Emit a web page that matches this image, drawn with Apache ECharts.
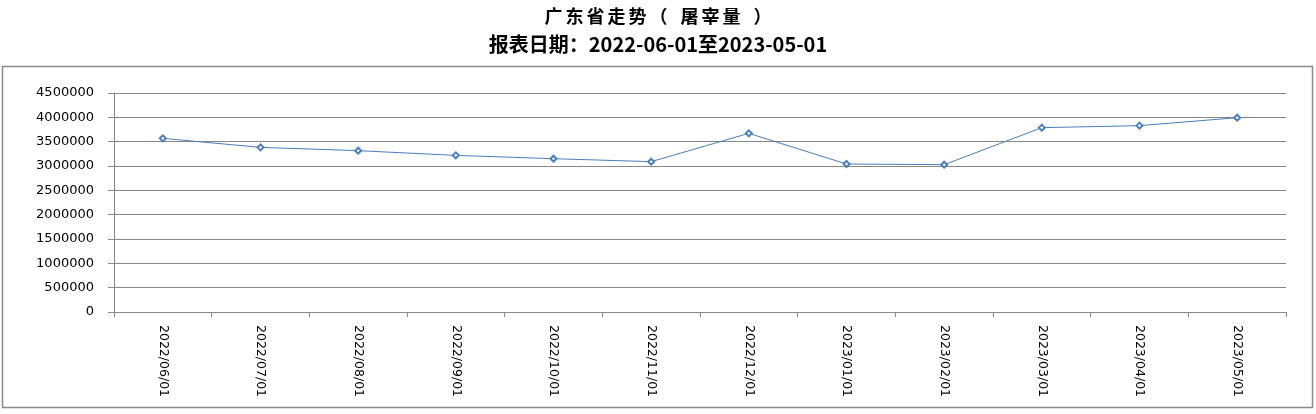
<!DOCTYPE html>
<html>
<head>
<meta charset="utf-8">
<script src="https://cdn.jsdelivr.net/npm/echarts@6/dist/echarts.min.js"></script>
<style>html,body{margin:0;padding:0;background:#fff}#c{width:1316px;height:414px}</style>
</head>
<body>
<div id="c"></div>
<script>
const titleText = "广东省走势（ 屠宰量 ）";
const subtitleText = "报表日期：2022-06-01至2023-05-01";
const categories = ["2022/06/01","2022/07/01","2022/08/01","2022/09/01","2022/10/01","2022/11/01","2022/12/01","2023/01/01","2023/02/01","2023/03/01","2023/04/01","2023/05/01"];
const values = [3568000,3383000,3315000,3218000,3150000,3089000,3671000,3041000,3027000,3788000,3829000,3993000];
const yMin = 0, yMax = 4500000, yInterval = 500000;

// spaced title via rich text fragments (one per character)
const spacedTitle = Array.from(titleText).map(c => c === ' ' ? '{sp|\u00a0}' : '{s|' + c + '}').join('');

const chart = echarts.init(document.getElementById('c'));
chart.setOption({
  animation: false,
  backgroundColor: '#fff',
  title: [
    {text: spacedTitle, left: 'center', top: 2,
     textStyle: {fontFamily: 'Noto Sans CJK SC', fontWeight: 'bold', fontSize: 18, color: '#000',
       rich: {
         s: {fontFamily: 'Noto Sans CJK SC', fontWeight: 'bold', fontSize: 18, color: '#000', padding: [0, 1.5, 0, 1.5]},
         sp: {fontFamily: 'Noto Sans CJK SC', fontSize: 18, width: 10}
       }}},
    {text: subtitleText, left: 'center', top: 29, textStyle: {fontFamily: 'Noto Sans CJK SC', fontWeight: 'bold', fontSize: 20, color: '#000'}}
  ],
  graphic: [{type: 'rect', shape: {x: 2.5, y: 66.5, width: 1310, height: 341}, style: {fill: 'none', stroke: '#888', lineWidth: 1.5}, silent: true}],
  grid: {left: 114, right: 30, top: 93, bottom: 102},
  xAxis: {
    type: 'category', data: categories, boundaryGap: true,
    axisLine: {lineStyle: {color: '#888', width: 1}},
    axisTick: {show: true, alignWithLabel: false, length: 5, lineStyle: {color: '#888'}},
    axisLabel: {rotate: -90, interval: 0, margin: 13, color: '#000', fontFamily: 'DejaVu Sans', fontSize: 12.5}
  },
  yAxis: {
    type: 'value', min: yMin, max: yMax, interval: yInterval,
    axisLine: {show: true, lineStyle: {color: '#888', width: 1}},
    axisTick: {show: true, length: 6, lineStyle: {color: '#888'}},
    splitLine: {show: true, lineStyle: {color: '#888', width: 1}},
    axisLabel: {margin: 20, color: '#000', fontFamily: 'DejaVu Sans', fontSize: 13, formatter: v => String(v)}
  },
  series: [{
    type: 'line', data: values,
    symbol: 'emptyDiamond', symbolSize: 6,
    lineStyle: {color: '#4a7ebb', width: 1},
    itemStyle: {color: '#4a7ebb', borderColor: '#4a7ebb', borderWidth: 1}
  }]
});
</script>
</body>
</html>
